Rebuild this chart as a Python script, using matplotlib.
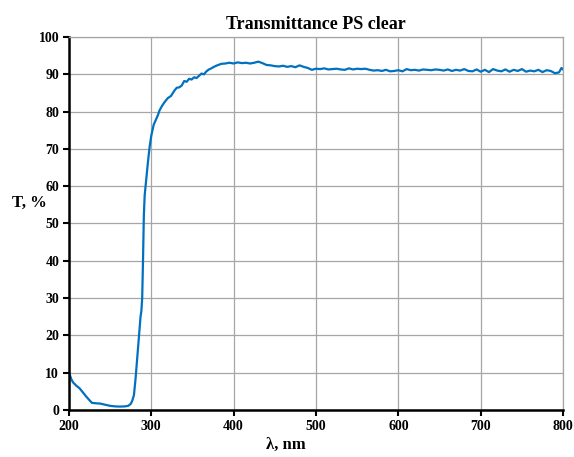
import matplotlib
matplotlib.use("Agg")
import matplotlib.pyplot as plt

# wavelength (nm) and transmittance (%)
wl = [200, 201, 203, 205, 209, 213, 217, 221, 225, 228, 232, 238, 244, 250,
      256, 262, 268, 272, 275, 277, 279, 281, 283, 285, 286, 287, 288, 289,
      290, 291, 292, 294, 296, 298, 300, 303, 306, 308, 310, 313, 316, 320,
      324, 328, 331, 334, 337, 340, 343, 346, 349, 352, 355, 358, 361, 364,
      367, 370, 373, 376, 380, 385, 390, 395, 400,
      405, 410, 415, 420, 425, 430, 435, 440, 445, 450, 455, 460, 465, 470,
      475, 480, 485, 490, 495, 500, 505, 510, 515, 520, 525, 530, 535, 540,
      545, 550, 555, 560, 565, 570, 575, 580, 585, 590, 595, 600, 605, 610,
      615, 620, 625, 630, 635, 640, 645, 650, 655, 660, 665, 670, 675, 680,
      685, 690, 695, 700, 705, 710, 715, 720, 725, 730, 735, 740, 745, 750,
      755, 760, 765, 770, 775, 780, 785, 790, 795, 798, 800]
T = [10.2, 9.5, 8.2, 7.4, 6.5, 5.8, 4.7, 3.6, 2.6, 1.9, 1.8, 1.7, 1.4, 1.1,
     0.95, 0.9, 0.95, 1.1, 1.6, 2.5, 4.0, 8.5, 14, 19.5, 22.5, 25, 26.5, 30,
     40, 52, 57.5, 62, 66.5, 70.5, 73.5, 76.5, 78, 79, 80.3, 81.5, 82.5, 83.6,
     84.2, 85.6, 86.4, 86.5, 87.0, 88.2, 88.0, 88.8, 88.6, 89.2, 89.0, 89.6,
     90.2, 90.0, 90.8, 91.3, 91.6, 92.0, 92.4, 92.8, 92.9, 93.1, 92.9,
     93.2, 93.0, 93.1, 92.9, 93.1, 93.4, 93.0, 92.5, 92.4, 92.2, 92.1, 92.3,
     92.0, 92.2, 91.9, 92.4, 92.0, 91.7, 91.2, 91.5, 91.4, 91.6, 91.3, 91.4,
     91.5, 91.3, 91.2, 91.6, 91.3, 91.5, 91.4, 91.5, 91.2, 91.0, 91.1, 90.9,
     91.2, 90.8, 90.9, 91.1, 90.8, 91.4, 91.1, 91.2, 91.0, 91.3, 91.2, 91.1,
     91.3, 91.2, 91.0, 91.3, 90.9, 91.2, 91.0, 91.4, 90.9, 90.8, 91.3, 90.7,
     91.2, 90.6, 91.4, 91.0, 90.8, 91.3, 90.7, 91.2, 90.9, 91.4, 90.7, 91.0,
     90.8, 91.2, 90.6, 91.1, 90.9, 90.3, 90.5, 91.7, 91.3]

xticks = [200, 300, 400, 500, 600, 700, 800]
yticks = [0, 10, 20, 30, 40, 50, 60, 70, 80, 90, 100]

plt.rcParams['font.family'] = ['Liberation Serif', 'DejaVu Serif']
plt.rcParams['font.weight'] = 'bold'

fig = plt.figure(figsize=(5.74, 4.57), dpi=100)
ax = fig.add_axes([0.120, 0.103, 0.861, 0.816])

ax.plot(wl, T, color='#0070C0', linewidth=1.6)

ax.set_xlim(200, 800)
ax.set_ylim(0, 100)
ax.set_xticks(xticks)
ax.set_yticks(yticks)
ax.grid(True, color='#a6a6a6', linewidth=0.9)
ax.set_axisbelow(True)

for s in ['left', 'bottom']:
    ax.spines[s].set_linewidth(1.8)
    ax.spines[s].set_color('black')
for s in ['top', 'right']:
    ax.spines[s].set_linewidth(0.9)
    ax.spines[s].set_color('#a6a6a6')

ax.tick_params(axis='both', direction='out', length=4, width=1.5,
               labelsize=10, pad=3)
for lab in ax.get_xticklabels() + ax.get_yticklabels():
    lab.set_fontweight('bold')

ax.set_title('Transmittance PS clear', fontsize=13, fontweight='bold', pad=6)
ax.set_xlabel('λ, nm', fontsize=12, fontweight='bold', va='center')
ax.xaxis.set_label_coords(0.439, -0.094)
ax.set_ylabel('T, %', fontsize=12, fontweight='bold', rotation=0,
              ha='center', va='center')
ax.yaxis.set_label_coords(-0.079, 0.555)

fig.savefig('out.png', dpi=100)
